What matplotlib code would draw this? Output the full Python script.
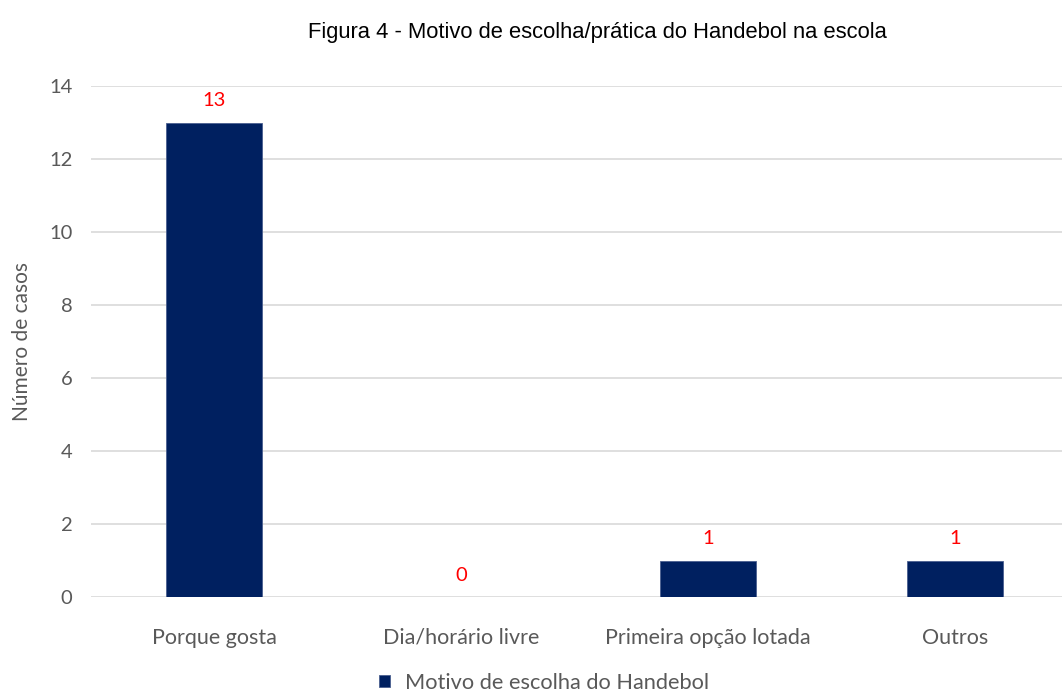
import matplotlib
matplotlib.use("Agg")
import matplotlib.pyplot as plt

# dados
categorias = ["Porque gosta", "Dia/horário livre", "Primeira opção lotada", "Outros"]
casos = [13, 0, 1, 1]
serie = "Motivo de escolha do Handebol"

cor_barra = "#002060"
cor_texto = "#595959"

fig = plt.figure(figsize=(10.62, 6.91), dpi=100)
ax = fig.add_axes([90.5 / 1062, 94 / 691, 1 - 90.5 / 1062, (598 - 87) / 691])

x = range(len(categorias))
barras = ax.bar(x, casos, width=0.39, color=cor_barra, edgecolor="#4a5f8f",
                linewidth=0.6, label=serie, zorder=3)

for xi, v in zip(x, casos):
    ax.text(xi, v + 0.36, str(v), ha="center", va="bottom", color="red",
            fontsize=14.5, family="Lato")

ax.set_xlim(-0.5, 3.433)
ax.set_ylim(0, 14)
ax.set_yticks(range(0, 15, 2))
ax.set_xticks(list(x))
ax.set_xticklabels(categorias)
ax.grid(axis="y", color="#d9d9d9", linewidth=1.2, zorder=0)
for s in ax.spines.values():
    s.set_visible(False)
ax.tick_params(length=0, colors=cor_texto, labelsize=14.5)
ax.tick_params(axis="x", labelsize=15.5, pad=22)
ax.tick_params(axis="y", pad=13)
for lab in ax.get_xticklabels() + ax.get_yticklabels():
    lab.set_family("Lato")

ax.set_ylabel("Número de casos", fontsize=15, color=cor_texto, family="Lato", labelpad=12)

fig.suptitle("Figura 4 - Motivo de escolha/prática do Handebol na escola",
             x=597 / 1062, y=0.968, fontsize=15.8, family="Liberation Sans", color="black")

fig.legend(handles=[barras], labels=[serie], loc="center", bbox_to_anchor=(0.512, 0.012),
           frameon=False, handlelength=0.5, handleheight=0.5, handletextpad=0.7,
           prop={"family": "Lato", "size": 15.7}, labelcolor=cor_texto)

fig.savefig("out.png", dpi=100)
